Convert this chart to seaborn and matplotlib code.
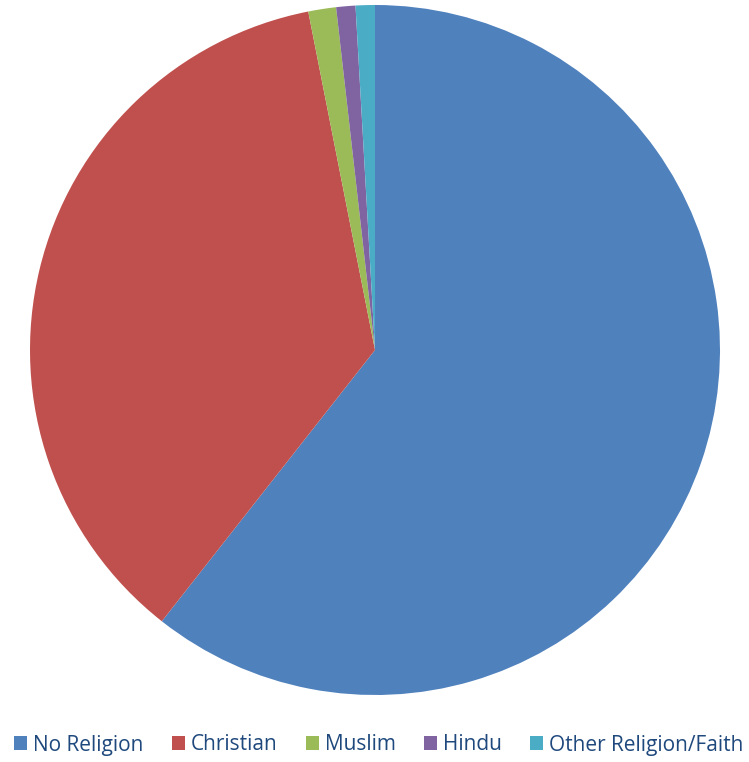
import matplotlib
matplotlib.use("Agg")
import matplotlib.pyplot as plt
import seaborn as sns
from matplotlib.patches import Patch

sns.set_theme(style="white")
plt.rcParams["font.family"] = ["Open Sans", "DejaVu Sans"]

categories = ["No Religion", "Christian", "Muslim", "Hindu", "Other Religion/Faith"]
shares = [60.6, 36.3, 1.3, 0.9, 0.9]
colors = ["#4F81BD", "#C0504D", "#9BBB59", "#8064A2", "#4BACC6"]

fig = plt.figure(figsize=(7.49, 7.62), dpi=100)
ax = fig.add_axes([30 / 749, 1 - 695 / 762, 690 / 749, 690 / 762])
ax.pie(shares, colors=colors, startangle=90, counterclock=False,
       radius=1.0, wedgeprops=dict(linewidth=0))
ax.set_xlim(-1.0, 1.0)
ax.set_ylim(-1.0, 1.0)
ax.set_aspect("equal")
ax.axis("off")

handles = [Patch(facecolor=c, edgecolor="none") for c in colors]
fig.legend(handles, categories, loc="center", bbox_to_anchor=(379 / 749, 1 - 745 / 762),
           ncol=5, frameon=False, fontsize=15, handlelength=0.62, handleheight=0.62,
           handletextpad=0.3, columnspacing=1.35, labelcolor="#1F497D",
           borderaxespad=0, borderpad=0)

fig.savefig("out.png", dpi=100)
